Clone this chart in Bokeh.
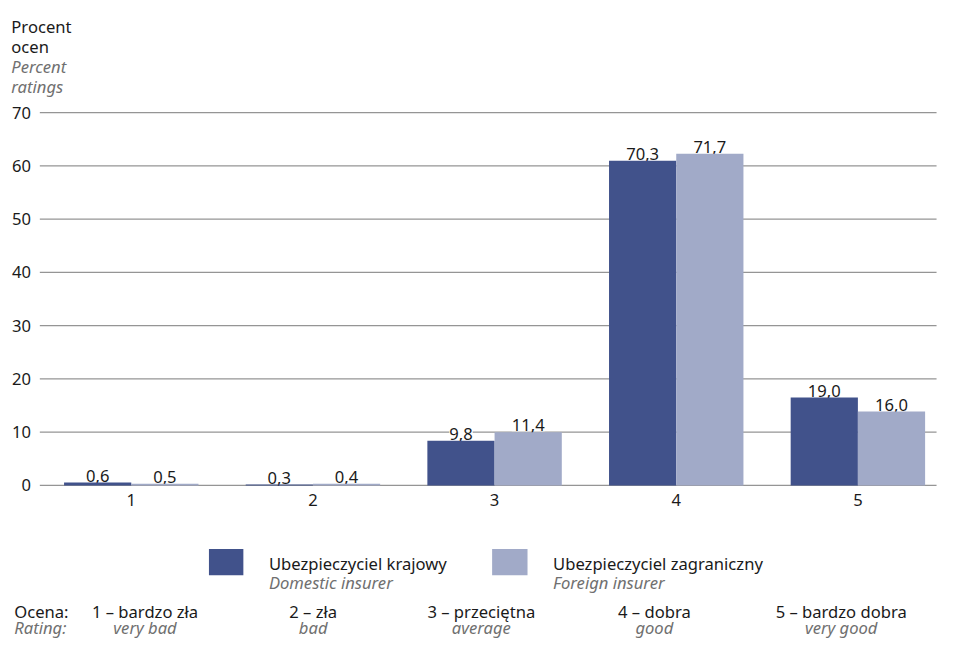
from bokeh.plotting import figure
from bokeh.models import ColumnDataSource, Range1d
from bokeh.core.properties import value
from bokeh.embed import file_html
from bokeh.resources import INLINE

# ---- data ----
categories = [1, 2, 3, 4, 5]
domestic_labels = [0.6, 0.3, 9.8, 70.3, 19.0]
foreign_labels = [0.5, 0.4, 11.4, 71.7, 16.0]
# bar heights as drawn in the picture
domestic_bars = [0.55, 0.2, 8.4, 61.0, 16.5]
foreign_bars = [0.3, 0.3, 10.0, 62.3, 13.9]
y_ticks = [0, 10, 20, 30, 40, 50, 60, 70]
series_pl = ["Ubezpieczyciel krajowy", "Ubezpieczyciel zagraniczny"]
series_en = ["Domestic insurer", "Foreign insurer"]
rating_pl = ["1 – bardzo zła", "2 – zła", "3 – przeciętna", "4 – dobra", "5 – bardzo dobra"]
rating_en = ["very bad", "bad", "average", "good", "very good"]

# ---- layout helpers (reference-image px -> data units) ----
REF_W, REF_H = 955, 660
W, H = 939, 644          # fits the window with the 8px page margin
CAT_PX, CAT0 = 184.75, 133.0
Y_PX, Y0 = 5.457, 497.0

def X(px):
    return 1 + (px - CAT0) / CAT_PX

def Y(py):
    return (Y0 - py) / Y_PX

FONT = value("Noto Sans")
FS = "16.6px"
DARK = "#41528b"
LIGHT = "#a1aac8"
GRID = "#959595"
TXT = "#1a1a1a"
GRAY = "#707070"

p = figure(width=W, height=H, output_backend="svg", toolbar_location=None,
           x_range=Range1d(X(0), X(REF_W)), y_range=Range1d(Y(REF_H), Y(0)),
           min_border=0, outline_line_color=None)
p.axis.visible = False
p.grid.visible = False
p.background_fill_color = "white"
p.border_fill_color = "white"

# gridlines
gsrc = ColumnDataSource(dict(x0=[X(40)] * len(y_ticks), x1=[X(952)] * len(y_ticks), y=y_ticks))
p.segment(x0="x0", y0="y", x1="x1", y1="y", source=gsrc, line_color=GRID, line_width=1.2)

# y tick labels
tsrc = ColumnDataSource(dict(x=[X(31)] * len(y_ticks), y=y_ticks, t=[str(v) for v in y_ticks]))
p.text(x="x", y="y", text="t", source=tsrc, text_align="right", text_baseline="middle",
       text_font=FONT, text_font_size=FS, text_color=TXT)

# x tick labels
xsrc = ColumnDataSource(dict(x=categories, y=[Y(512)] * 5, t=[str(c) for c in categories]))
p.text(x="x", y="y", text="t", source=xsrc, text_align="center", text_baseline="middle",
       text_font=FONT, text_font_size=FS, text_color=TXT)

BW = 0.37
def fmt(v):
    return f"{v:.1f}".replace(".", ",")

dsrc = ColumnDataSource(dict(x=[c - BW / 2 for c in categories], top=domestic_bars,
                             ly=[b + 7 / Y_PX for b in domestic_bars],
                             t=[fmt(v) for v in domestic_labels]))
fsrc = ColumnDataSource(dict(x=[c + BW / 2 for c in categories], top=foreign_bars,
                             ly=[b + 7 / Y_PX for b in foreign_bars],
                             t=[fmt(v) for v in foreign_labels]))
for src in (dsrc, fsrc):
    p.text(x="x", y="ly", text="t", source=src, text_align="center", text_baseline="alphabetic",
           text_font=FONT, text_font_size=FS, text_color=TXT,
           background_fill_color="white", padding=0)
p.vbar(x="x", top="top", bottom=0, width=BW, source=dsrc, fill_color=DARK, line_color=None)
p.vbar(x="x", top="top", bottom=0, width=BW, source=fsrc, fill_color=LIGHT, line_color=None)

# axis title (top-left)
p.text(x=[X(11)] * 2, y=[Y(27), Y(47)], text=["Procent", "ocen"], text_font=FONT,
       text_font_size=FS, text_color=TXT, text_baseline="alphabetic")
p.text(x=[X(11)] * 2, y=[Y(67.5), Y(88)], text=["Percent", "ratings"], text_font=FONT,
       text_font_size=FS, text_color=GRAY, text_font_style="italic", text_baseline="alphabetic")

# legend
p.quad(left=[X(212), X(500)], right=[X(247), X(536)], top=[Y(562)] * 2, bottom=[Y(589)] * 2,
       fill_color=[DARK, LIGHT], line_color=None)
p.text(x=[X(273), X(562)], y=[Y(577)] * 2, text=series_pl, text_font=FONT, text_font_size=FS,
       text_color=TXT, text_baseline="alphabetic")
p.text(x=[X(273), X(562)], y=[Y(596)] * 2, text=series_en, text_font=FONT, text_font_size=FS,
       text_color=GRAY, text_font_style="italic", text_baseline="alphabetic")

# rating explanation
centers = [147, 318, 489, 665, 855]
p.text(x=[X(14)], y=[Y(626)], text=["Ocena:"], text_font=FONT, text_font_size=FS,
       text_color=TXT, text_baseline="alphabetic")
p.text(x=[X(14)], y=[Y(643)], text=["Rating:"], text_font=FONT, text_font_size=FS,
       text_color=GRAY, text_font_style="italic", text_baseline="alphabetic")
p.text(x=[X(c) for c in centers], y=[Y(626)] * 5, text=rating_pl, text_font=FONT,
       text_font_size=FS, text_color=TXT, text_align="center", text_baseline="alphabetic")
p.text(x=[X(c) for c in centers], y=[Y(643)] * 5, text=rating_en, text_font=FONT,
       text_font_size=FS, text_color=GRAY, text_font_style="italic", text_align="center",
       text_baseline="alphabetic")

open("out.html", "w").write(file_html(p, INLINE))
